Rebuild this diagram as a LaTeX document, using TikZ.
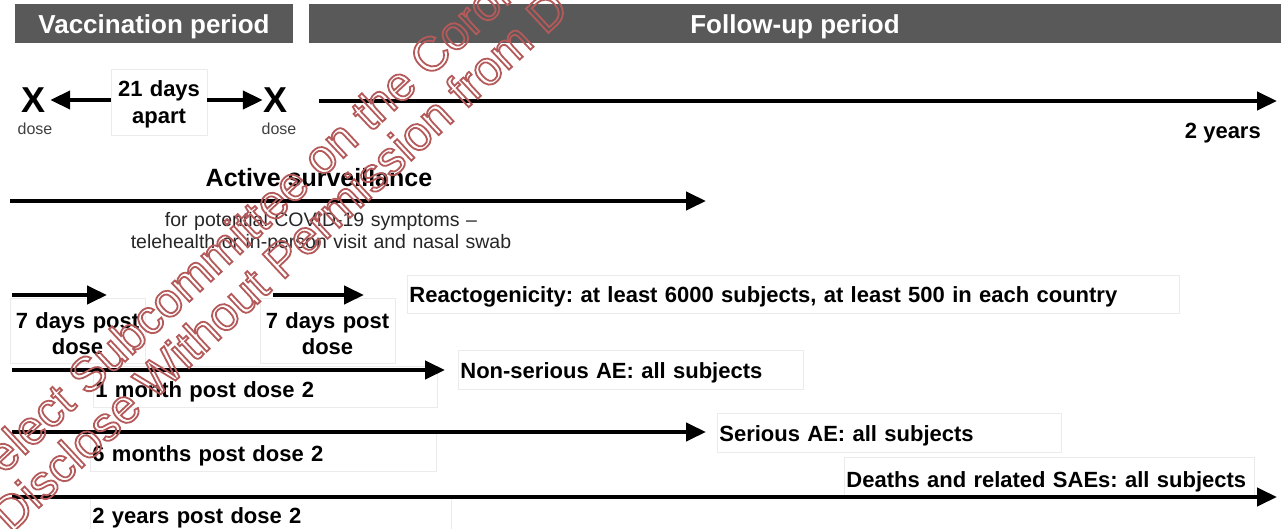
\documentclass[tikz,border=0pt]{standalone}
\usepackage{fontspec}
\setmainfont{Liberation Sans}
\usetikzlibrary{arrows.meta,positioning}
\definecolor{HeadGray}{HTML}{595959}
\definecolor{FrameGray}{HTML}{EBEBEB}
\definecolor{DoseGray}{HTML}{404040}
\definecolor{StampRed}{HTML}{B45A5A}

\begin{document}
\frenchspacing
\begin{tikzpicture}[
    x=1pt, y=-1pt,
    headbar/.style={fill=HeadGray,text=white,font=\bfseries\fontsize{26}{30}\selectfont,inner sep=0pt,text height=30pt,text depth=9pt,anchor=base},
    tag/.style={draw=FrameGray,line width=0.8pt,fill=white,font=\bfseries\fontsize{22}{26}\selectfont,inner xsep=2pt,inner ysep=0pt},
    leftag/.style={tag,anchor=base west,align=left},
    dosex/.style={font=\bfseries\fontsize{36}{36}\selectfont,inner sep=0pt},
    dosetxt/.style={font=\fontsize{16}{16}\selectfont,text=DoseGray,inner sep=0pt,anchor=base},
    stamp/.style={text=StampRed,font=\fontsize{48}{48}\selectfont,inner sep=0pt,rotate=43,anchor=base west},
    arr/.style={-{Triangle[length=20pt,width=18pt]},line width=4.2pt}
  ]
  \useasboundingbox (0,0) rectangle (1285,529);

  % period headers
  \node[headbar,minimum width=278] (vacc) at (154,34) {Vaccination period};
  \node[headbar,minimum width=972] (follow) at (795,34) {Follow-up period};

  % doses
  \node[dosex] (xa) at (34,100) {X};
  \node[dosex] (xb) at (276,100) {X};
  \node[dosetxt] (da) at (35,135) {dose};
  \node[dosetxt] (db) at (279,135) {dose};
  \node[tag,anchor=base,text width=92,align=center,text height=28pt,text depth=38pt,font=\bfseries\fontsize{22}{27}\selectfont] (gap) at (159,97) {21 days\\apart};
  \node[font=\bfseries\fontsize{22}{22}\selectfont,inner sep=0pt,anchor=base east] (yrs) at (1261,139) {2 years};
  \coordinate (fu0) at (319,101);
  \coordinate (fu1) at (1277,101);

  % active surveillance
  \node[font=\bfseries\fontsize{25}{25}\selectfont,inner sep=0pt,anchor=base] (asv) at (319,186.5) {Active surveillance};
  \node[font=\fontsize{19.5}{22}\selectfont,text=black!85,inner sep=0pt,anchor=base,text width=420,align=center] (asnote) at (321,227) {for potential COVID-19 symptoms --\\telehealth or in-person visit and nasal swab};
  \coordinate (as0) at (10,201);
  \coordinate (as1) at (706,201);

  % safety windows
  \node[tag,anchor=base,text width=131,align=center,text height=30pt,text depth=35pt] (sevA) at (77.5,328) {7 days post\\dose};
  \node[tag,anchor=base,text width=131,align=center,text height=30pt,text depth=35pt] (sevB) at (327.5,328) {7 days post\\dose};
  \node[leftag,text width=768,text height=28pt,text depth=10pt] (reacto) at (407,303) {Reactogenicity: at least 6000 subjects, at least 500 in each country};
  \node[leftag,text width=340,text height=31.5pt,text depth=9.5pt] (month) at (93,397.5) {1 month post dose 2};
  \node[leftag,text width=341,text height=28pt,text depth=11pt] (nonser) at (458,378) {Non-serious AE: all subjects};
  \node[leftag,text width=342,text height=28pt,text depth=10pt] (sixm) at (90,461) {6 months post dose 2};
  \node[leftag,text width=340,text height=28pt,text depth=11pt] (serious) at (717,441) {Serious AE: all subjects};
  \node[leftag,text width=357,text height=26pt,text depth=17pt] (twoy) at (90,523) {2 years post dose 2};
  \node[leftag,text width=406,text height=30pt,text depth=9pt] (deaths) at (844,487) {Deaths and related SAEs: all subjects};
  \coordinate (ra0) at (12,295);
  \coordinate (ra1) at (107,295);
  \coordinate (rb0) at (273,295);
  \coordinate (rb1) at (364,295);
  \coordinate (m0) at (12,370);
  \coordinate (m1) at (445,370);
  \coordinate (s0) at (12,432);
  \coordinate (s1) at (706,432);
  \coordinate (d0) at (12,497);
  \coordinate (d1) at (1277,497);

  \draw[arr,shorten >=4pt] (gap.west |- xa) -- (xa.east);
  \draw[arr,shorten >=1pt] (gap.east |- xb) -- (xb.west);
  \draw[arr] (fu0) -- (fu1);
  \draw[arr] (as0) -- (as1);
  \draw[arr] (ra0) -- (ra1);
  \draw[arr] (rb0) -- (rb1);
  \draw[arr] (m0) -- (m1);
  \draw[arr] (s0) -- (s1);
  \draw[arr] (d0) -- (d1);

  % stamp over the page
  \begin{scope}
    \clip (0,0) rectangle (1285,529);
    \node[stamp] (stampA) at (-20,497) {\special{pdf:literal direct 1 Tr 1.8 w}Select Subcommittee on the Coronavirus\special{pdf:literal direct 0 Tr}};
    \node[stamp] (stampB) at (11,534) {\special{pdf:literal direct 1 Tr 1.8 w}Disclose Without Permission from D\special{pdf:literal direct 0 Tr}};
  \end{scope}
\end{tikzpicture}
\end{document}
